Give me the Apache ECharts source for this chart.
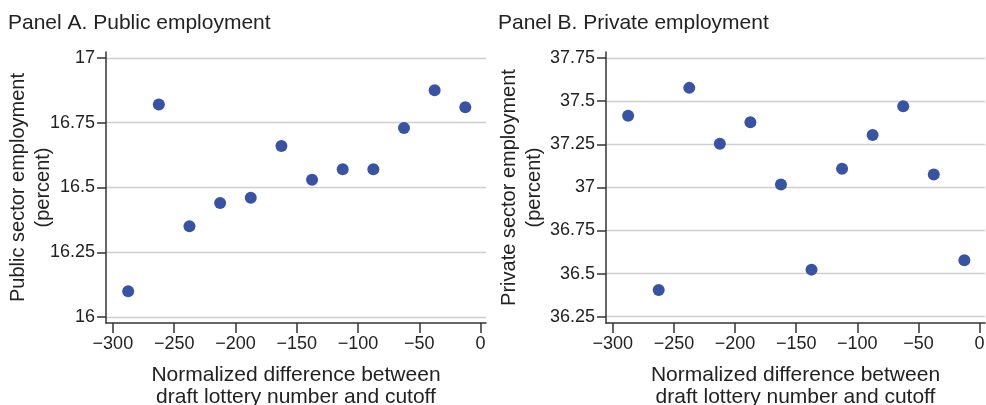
<!DOCTYPE html>
<html>
<head>
<meta charset="utf-8">
<script src="https://cdn.jsdelivr.net/npm/echarts@6/dist/echarts.min.js"></script>
<style>
html,body{margin:0;padding:0;background:#fff;}
#chart{width:986px;height:405px;}
</style>
</head>
<body>
<div id="chart"></div>
<script>
// Data
const xBins = [-287.5, -262.5, -237.5, -212.5, -187.5, -162.5, -137.5, -112.5, -87.5, -62.5, -37.5, -12.5];
const publicEmployment = [16.10, 16.82, 16.35, 16.44, 16.46, 16.66, 16.53, 16.57, 16.57, 16.73, 16.875, 16.81];
const privateEmployment = [37.415, 36.405, 37.577, 37.253, 37.377, 37.016, 36.523, 37.108, 37.304, 37.471, 37.075, 36.577];
const xTicks = [-300, -250, -200, -150, -100, -50, 0];
const yTicksA = [16, 16.25, 16.5, 16.75, 17];
const yTicksB = [36.25, 36.5, 36.75, 37, 37.25, 37.5, 37.75];

const FONT = '"Liberation Sans", Arial, Helvetica, sans-serif';
const TXT = '#222';
const AXC = '#333';
const DOT = '#3953a4';

function pairs(xs, ys) { return xs.map((x, i) => [x, ys[i]]); }
function fmtX(v) { return v < 0 ? '\u2212' + Math.abs(v) : String(v); }

function xAxisCfg(gridIndex) {
  return {
    type: 'value', gridIndex: gridIndex,
    min: -305.6, max: 4.4,
    name: 'Normalized difference between\ndraft lottery number and cutoff',
    nameLocation: 'middle', nameGap: 41,
    nameTextStyle: { fontFamily: FONT, fontSize: 21, color: TXT, lineHeight: 22 },
    axisLine: { show: true, onZero: false, lineStyle: { color: AXC, width: 1.5 } },
    axisTick: { show: true, inside: false, length: 10, customValues: xTicks, lineStyle: { color: AXC, width: 1.5 } },
    axisLabel: { customValues: xTicks, formatter: fmtX, fontFamily: FONT, fontSize: 18, color: TXT, margin: 12 },
    splitLine: { show: false }
  };
}

function yAxisCfg(gridIndex, min, max, ticks, name, gap) {
  return {
    type: 'value', gridIndex: gridIndex,
    min: min, max: max,
    name: name,
    nameLocation: 'middle', nameRotate: 90, nameGap: gap,
    nameMoveOverlap: false,
    nameTextStyle: { fontFamily: FONT, fontSize: 20, color: TXT, lineHeight: 25 },
    axisLine: { show: true, onZero: false, lineStyle: { color: AXC, width: 1.5 } },
    axisTick: { show: true, inside: false, length: 9, customValues: ticks, lineStyle: { color: AXC, width: 1.5 } },
    axisLabel: { customValues: ticks, fontFamily: FONT, fontSize: 18, color: TXT, margin: 11 },
    splitLine: { show: true, lineStyle: { color: '#cfcfcf', width: 1.3 } }
  };
}

const chart = echarts.init(document.getElementById('chart'), null, { renderer: 'canvas' });
chart.setOption({
  backgroundColor: '#fff',
  animation: false,
  title: [
    { text: 'Panel A. Public employment', left: 3, top: 8,
      textStyle: { fontFamily: FONT, fontSize: 21, fontWeight: 'normal', color: TXT } },
    { text: 'Panel B. Private employment', left: 493, top: 8,
      textStyle: { fontFamily: FONT, fontSize: 21, fontWeight: 'normal', color: TXT } }
  ],
  grid: [
    { left: 106, width: 380, top: 52, height: 271, containLabel: false, outerBoundsMode: 'none' },
    { left: 606, width: 379, top: 52, height: 271, containLabel: false, outerBoundsMode: 'none' }
  ],
  xAxis: [xAxisCfg(0), xAxisCfg(1)],
  yAxis: [
    yAxisCfg(0, 15.977, 17.023, yTicksA, 'Public sector employment\n(percent)', 50),
    yAxisCfg(1, 36.2135, 37.785, yTicksB, 'Private sector employment\n(percent)', 59)
  ],
  series: [
    { type: 'scatter', xAxisIndex: 0, yAxisIndex: 0, data: pairs(xBins, publicEmployment),
      symbolSize: 12, itemStyle: { color: DOT, opacity: 1 } },
    { type: 'scatter', xAxisIndex: 1, yAxisIndex: 1, data: pairs(xBins, privateEmployment),
      symbolSize: 12, itemStyle: { color: DOT, opacity: 1 } }
  ]
});
</script>
</body>
</html>
